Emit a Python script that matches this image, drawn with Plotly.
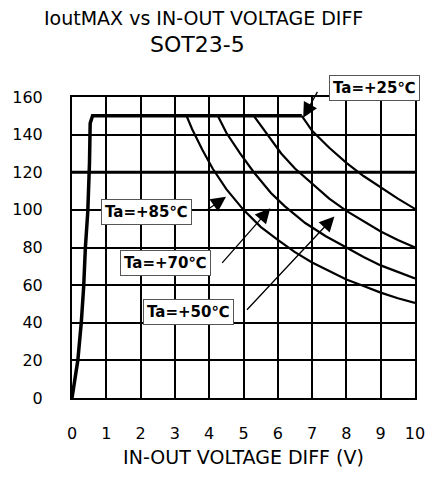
import plotly.graph_objects as go

# Axis ticks
x_ticks = list(range(0, 11))
y_ticks = list(range(0, 161, 20))

# Current limit: rise from 0 V, then flat at 150 mA
limit_x = [0.0, 0.17, 0.27, 0.34, 0.39, 0.46, 0.51, 0.53, 0.60, 6.70]
limit_y = [0, 20, 40, 59, 80, 99, 125, 146, 150, 150]

# Thermal fall-off curves (IoutMAX in mA vs V)
t25_x = [6.7, 7.0, 7.5, 8.0, 8.5, 9.0, 9.5, 10.0]
t25_y = [150, 142, 133, 125, 118, 112, 106, 100.5]

t50_x = [5.3, 5.7, 6.1, 6.5, 7.0, 7.5, 8.0, 8.5, 9.0, 9.5, 10.0]
t50_y = [150, 140, 130, 122, 114, 106, 99.5, 94, 88.5, 84, 80]

t70_x = [4.25, 4.5, 4.9, 5.3, 5.8, 6.2, 6.8, 7.4, 8.0, 8.5, 9.0, 9.5, 10.0]
t70_y = [150, 141, 130, 120, 109, 102, 93, 86, 80, 75, 70.5, 67, 63.5]

t85_x = [3.34, 3.5, 3.8, 4.1, 4.5, 5.0, 5.5, 6.0, 6.5, 7.0, 7.5, 8.0, 8.5, 9.0, 9.5, 10.0]
t85_y = [150, 143, 132, 122, 111, 100, 91, 84, 77.5, 72, 67.5, 63, 59.5, 56, 53, 50.5]

# Label boxes and the arrows pointing to their curves
labels = ["Ta=+25℃", "Ta=+85℃", "Ta=+70℃", "Ta=+50℃"]
label_x = [8.83, 2.16, 2.74, 3.41]
label_y = [165.0, 98.8, 71.5, 45.7]
arrow_tail_x = [7.18, 3.87, 4.34, 5.06]
arrow_tail_y = [163.5, 99.1, 71.0, 46.1]
arrow_tip_x = [6.74, 4.49, 5.78, 7.65]
arrow_tip_y = [149.0, 107.0, 100.9, 96.5]

Y_MAX = 160
FONT = "DejaVu Sans, Noto Sans CJK JP, sans-serif"

fig = go.Figure()
fig.add_trace(go.Scatter(x=limit_x, y=limit_y, mode="lines",
                         line=dict(color="black", width=3.5), hoverinfo="skip"))
for xs, ys in [(t25_x, t25_y), (t50_x, t50_y), (t70_x, t70_y), (t85_x, t85_y)]:
    fig.add_trace(go.Scatter(x=xs, y=ys, mode="lines",
                             line=dict(color="black", width=2.2), hoverinfo="skip"))

# heavier grid line at 120 mA
fig.add_shape(type="line", xref="paper", x0=0, x1=1, yref="y", y0=120, y1=120,
              line=dict(color="black", width=2.8), layer="below")

annotations = []
for tx, ty, hx, hy in zip(arrow_tail_x, arrow_tail_y, arrow_tip_x, arrow_tip_y):
    annotations.append(dict(x=hx, y=hy, ax=tx, ay=ty, xref="x", yref="y",
                            axref="x", ayref="y", text="", showarrow=True,
                            arrowhead=2, arrowsize=2.3, arrowwidth=1.3,
                            arrowcolor="black"))
# label positions given in mA; placed in paper units so the one above the
# plot area stays visible
for txt, lx, ly in zip(labels, label_x, label_y):
    annotations.append(dict(x=lx, y=ly / Y_MAX, xref="x", yref="paper",
                            xanchor="center", yanchor="middle",
                            text="<b>" + txt + "</b>",
                            showarrow=False, bgcolor="white", bordercolor="#555",
                            borderwidth=1, borderpad=3,
                            font=dict(family=FONT, size=15, color="black")))

annotations.append(dict(x=0.382, y=1.261, xref="paper", yref="paper",
                        xanchor="center", yanchor="middle",
                        text="IoutMAX vs IN-OUT VOLTAGE DIFF", showarrow=False,
                        font=dict(family=FONT, size=19, color="black")))
annotations.append(dict(x=0.367, y=1.176, xref="paper", yref="paper",
                        xanchor="center", yanchor="middle",
                        text="SOT23-5", showarrow=False,
                        font=dict(family=FONT, size=22, color="black")))

axis_common = dict(showgrid=True, gridcolor="black", gridwidth=2, zeroline=False,
                   showline=True, mirror=True, linecolor="black", linewidth=2,
                   ticks="", tickfont=dict(family=FONT, size=16, color="black"))

fig.update_layout(
    width=437, height=477,
    margin=dict(l=72, r=17, t=97, b=74),
    paper_bgcolor="white", plot_bgcolor="white",
    showlegend=False,
    annotations=annotations,
    xaxis=dict(range=[0, 10], tickvals=x_ticks, ticklabelstandoff=20,
               title=dict(text="IN-OUT VOLTAGE DIFF (V)", standoff=8,
                          font=dict(family=FONT, size=19, color="black")),
               **axis_common),
    yaxis=dict(range=[0, Y_MAX], tickvals=y_ticks, ticklabelstandoff=24,
               **axis_common),
)

fig.write_html("out.html")
